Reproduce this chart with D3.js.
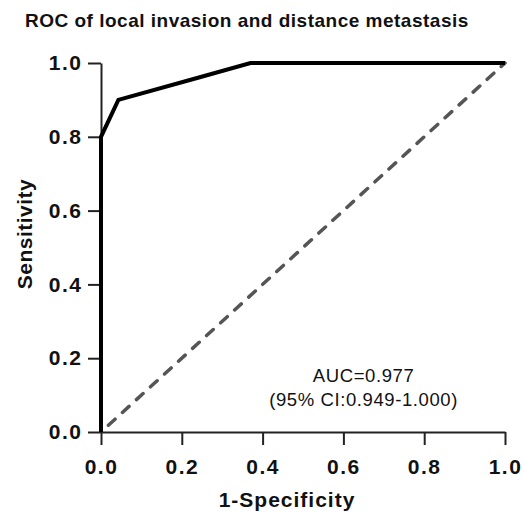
<!DOCTYPE html>
<html>
<head>
<meta charset="utf-8">
<script src="https://cdn.jsdelivr.net/npm/d3@7"></script>
<style>
  html, body { margin: 0; padding: 0; background: #fff; }
  svg { display: block; }
</style>
</head>
<body>
<svg id="chart"></svg>
<script>
// ROC curve points
const fpr = [0, 0, 0.043, 0.24, 0.37, 1.0];
const tpr = [0, 0.8, 0.9, 0.96, 1.0, 1.0];
const refLine = [0, 1];
const xTicks = [0, 0.2, 0.4, 0.6, 0.8, 1.0];
const yTicks = [0, 0.2, 0.4, 0.6, 0.8, 1.0];
const titleText = 'ROC of local invasion and distance metastasis';
const aucLines = ['AUC=0.977', '(95% CI:0.949-1.000)'];

const width = 526, height = 514;
const margin = { top: 63, right: 21, bottom: 82, left: 101 };
const innerW = width - margin.left - margin.right;
const innerH = height - margin.top - margin.bottom;
const font = '"Liberation Sans", Arial, Helvetica, sans-serif';

const svg = d3.select('#chart')
  .attr('width', width)
  .attr('height', height);

svg.append('text')
  .attr('x', 25)
  .attr('y', 27)
  .attr('font-family', font)
  .attr('font-size', '19px')
  .attr('font-weight', 700)
  .attr('letter-spacing', '0.5px')
  .attr('fill', '#111')
  .text(titleText);

const g = svg.append('g').attr('transform', `translate(${margin.left},${margin.top})`);

const x = d3.scaleLinear().domain([0, 1]).range([0, innerW]);
const y = d3.scaleLinear().domain([0, 1]).range([innerH, 0]);

// reference diagonal
g.append('line')
  .attr('x1', x(refLine[0])).attr('y1', y(refLine[0]))
  .attr('x2', x(refLine[1])).attr('y2', y(refLine[1]))
  .attr('stroke', '#555')
  .attr('stroke-width', 3.5)
  .attr('stroke-linecap', 'round')
  .attr('stroke-dasharray', '9,10')
  .attr('stroke-dashoffset', -10);

const xAxis = d3.axisBottom(x)
  .tickValues(xTicks)
  .tickFormat(d3.format('.1f'))
  .tickSize(13)
  .tickSizeOuter(0)
  .tickPadding(14);

const yAxis = d3.axisLeft(y)
  .tickValues(yTicks)
  .tickFormat(d3.format('.1f'))
  .tickSize(13)
  .tickSizeOuter(0)
  .tickPadding(7);

const ax = g.append('g')
  .attr('transform', `translate(0,${innerH})`)
  .call(xAxis);
const ay = g.append('g').call(yAxis);

[ax, ay].forEach(a => {
  a.selectAll('.domain').attr('stroke', '#222').attr('stroke-width', 2);
  a.selectAll('.tick line').attr('stroke', '#222').attr('stroke-width', 2);
  a.selectAll('.tick text')
    .attr('fill', '#111')
    .attr('font-family', font)
    .attr('font-size', '21px')
    .attr('font-weight', 700)
    .attr('letter-spacing', '1.5px');
});
// letter-spacing adds trailing space after the last glyph; pull the y labels back
ay.selectAll('.tick text').attr('dx', '1.5px');

// ROC curve
const pts = fpr.map((f, i) => [f, tpr[i]]);
g.append('path')
  .attr('d', d3.line().x(d => x(d[0])).y(d => y(d[1]))(pts))
  .attr('fill', 'none')
  .attr('stroke', '#000')
  .attr('stroke-width', 4)
  .attr('stroke-linejoin', 'miter');

// AUC annotation
g.append('text')
  .attr('x', x(0.65))
  .attr('y', y(0.135))
  .attr('text-anchor', 'middle')
  .attr('font-family', font)
  .attr('font-size', '18.5px')
  .attr('letter-spacing', '0.6px')
  .attr('fill', '#111')
  .selectAll('tspan')
  .data(aucLines)
  .join('tspan')
  .attr('x', x(0.65))
  .attr('dy', (d, i) => i === 0 ? 0 : 24)
  .text(d => d);

// axis titles
svg.append('text')
  .attr('x', 287)
  .attr('y', 507)
  .attr('text-anchor', 'middle')
  .attr('font-family', font)
  .attr('font-size', '21px')
  .attr('font-weight', 700)
  .attr('letter-spacing', '1px')
  .attr('fill', '#111')
  .text('1-Specificity');

svg.append('text')
  .attr('transform', 'translate(32,234) rotate(-90)')
  .attr('text-anchor', 'middle')
  .attr('font-family', font)
  .attr('font-size', '21px')
  .attr('font-weight', 700)
  .attr('letter-spacing', '0.5px')
  .attr('fill', '#111')
  .text('Sensitivity');
</script>
</body>
</html>
